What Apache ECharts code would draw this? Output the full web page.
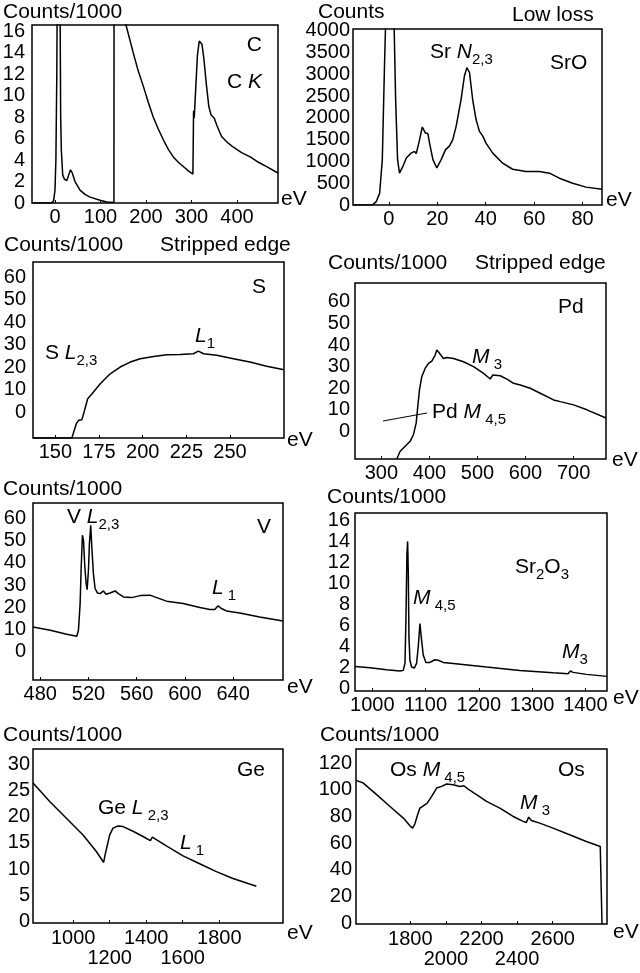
<!DOCTYPE html>
<html><head><meta charset="utf-8">
<script src="https://cdn.jsdelivr.net/npm/echarts@6/dist/echarts.min.js"></script>
<style>html,body{margin:0;padding:0;background:#fff}#c{width:640px;height:973px}</style>
</head><body><div id="c"></div>
<script>
// ---------- data (eV, counts or counts/1000) ----------
const cSpectrum = [[-50,0],[-8,0],[-3,0.2],[0,1.2],[2,4],[4,12],[5,20],[8,40],[11,20],[12.5,8],[14,4.9],[17,2.6],[21,2.2],[26,2.1],[30,2.6],[34,3.1],[38,2.8],[44,2.0],[55,1.2],[66,0.8],[77,0.55],[99,0.25],[114,0.1],[129.5,0.05],[130,30],[143,22],[156,16.6],[172,14.0],[183,12.3],[194,10.9],[205,9.4],[216,8.0],[227,6.9],[238,5.9],[249,5.0],[260,4.3],[271,3.8],[282,3.4],[293,3.0],[303,2.7],[304.5,8.6],[306,7.9],[309,10.5],[313,13.8],[317,15.1],[320,15.2],[323,14.8],[327,13.5],[333,10.9],[338,9.0],[343,8.2],[350,7.9],[356,7.2],[366,6.2],[380,5.6],[392,5.2],[410,4.7],[429,4.3],[447,3.8],[465,3.4],[490,2.8]];
const srOSpectrum = [[-14.8,0],[-6.6,8],[-5.2,77],[-3.8,270],[-2.7,1040],[-1.8,3190],[-1.4,4040],[0.4,9000],[2.2,4040],[2.8,2420],[3.6,1040],[4.4,730],[5.8,885],[7.2,1080],[9.2,1190],[10.6,1230],[11.3,1180],[12.7,1500],[13.8,1790],[15.1,1650],[16.1,1640],[16.8,1420],[18.2,1040],[19.8,850],[21.6,1040],[23.4,1270],[25.0,1350],[26.4,1500],[27.8,1810],[29.8,2420],[31.2,2960],[32.2,3150],[33.3,3040],[34.6,2420],[36.0,1960],[37.4,1690],[38.8,1580],[40.1,1420],[42.9,1190],[47.0,960],[51.1,820],[56.6,770],[62.1,770],[66.3,730],[70.4,615],[75.9,500],[81.4,410],[88,360]];
const sSpectrum = [[137.2,-11.56],[159.5,-11.56],[160.5,-8.9],[162,-5.2],[163.3,-3.7],[165.2,-3.4],[166.2,-0.7],[168.5,5.9],[171,8.1],[175.7,12.6],[181.4,17],[187.1,20],[192.9,22.2],[198.6,23.7],[206.2,24.7],[213.8,25.5],[221.4,25.6],[229,25.9],[231.9,27.1],[234.8,25.9],[242.4,25.2],[251.9,23.7],[261.4,22.2],[271,20.3],[280.9,18.8]];
const pdSpectrum = [[332,-12.8],[339,-9.2],[349.4,-6.9],[359.8,-4.6],[366.7,-1.5],[372.3,3.8],[375,10],[379.2,19.2],[384,25.4],[391,29.2],[398,31.5],[404.9,32.6],[411.9,35.4],[415.3,37.7],[420.9,36.2],[429.2,33.8],[436.2,34.3],[450.1,33.8],[470.9,32.3],[491.7,30],[512.6,26.9],[526.5,24.3],[532,26.2],[547.3,25.8],[561.2,24.2],[575.1,22.3],[589,21.5],[609.8,20],[630.6,17.7],[658.4,14.6],[672.3,13.8],[700.1,12.3],[727.8,10],[767.5,6.2]];
const vSpectrum = [[474,11.2],[488.3,9.7],[502,7.9],[510.3,7.0],[511.7,9.7],[513.1,21.7],[513.9,36.7],[515,52.5],[515.9,50.2],[517,38.2],[518.1,30.7],[518.9,28],[520,36.7],[520.8,48.7],[521.9,57],[522.8,47.2],[524.1,35.2],[525.5,28.5],[527.4,26.5],[529.7,26.2],[532.4,27.4],[534.6,25.9],[537.9,26.5],[542.1,27.4],[544.8,26.2],[549,24.7],[555.9,24.4],[562.8,25.3],[571,25.5],[576.6,24.4],[584.8,22.8],[598.6,21.7],[612.4,19.9],[620.7,19],[624.8,19],[627.6,20.7],[630.3,19.5],[634.5,18.4],[645.5,17.5],[662,15.7],[681.4,13.9]];
const sr2o3Spectrum = [[967.5,2.12],[995.6,2.0],[1026.9,1.8],[1051.9,1.68],[1058.1,1.74],[1061.3,2.4],[1063.1,6.5],[1065,12.8],[1066.3,14.0],[1067.5,11.2],[1068.8,4.9],[1070.6,2.7],[1073.8,2.06],[1078.8,1.96],[1083.1,2.4],[1086.3,4.0],[1089.4,6.2],[1091.9,4.9],[1095.6,3.2],[1100.6,2.5],[1108.1,2.5],[1117.5,2.75],[1123.8,2.7],[1133.1,2.5],[1151.9,2.4],[1214.4,2.06],[1276.9,1.74],[1339.4,1.52],[1367.5,1.43],[1371.9,1.68],[1376.9,1.55],[1401.9,1.36],[1440.6,1.17]];
const geSpectrum = [[780.3,26.4],[871.5,22.9],[962.8,19.7],[1054,16.5],[1127,13.35],[1167,11.25],[1174.5,12.7],[1185.4,14.3],[1200,16.5],[1218.2,17.8],[1245.6,18.2],[1273,18.1],[1327.7,17.2],[1382.5,16.2],[1422.6,15.4],[1433.6,16.1],[1455.5,15.6],[1510.2,14.4],[1601.5,12.5],[1692.7,11.0],[1784,9.5],[1875.2,8.2],[2003,6.7]];
const osSpectrum = [[1495,107],[1536,105],[1611,96.3],[1686,87.5],[1761,78.8],[1798,73],[1813,71.3],[1826,74.5],[1841,81.3],[1854,86.3],[1873,88],[1895,90],[1920,95],[1948,101.3],[1976,102.5],[2004,104.3],[2041,103.8],[2079,102.5],[2101,103],[2125,100.5],[2172,96.3],[2228,91.3],[2303,86.3],[2378,80],[2434,76.3],[2452,75.5],[2465,79.5],[2480,77],[2527,75],[2602,71.3],[2695,66.3],[2789,61.3],[2867,57.5],[2875,57],[2877,-0.5]];

// ---------- tick labels ----------
const cXTicks = [0,100,200,300,400];
const cYTicks = [0,2,4,6,8,10,12,14,16];
const srOXTicks = [0,20,40,60,80];
const srOYTicks = [0,500,1000,1500,2000,2500,3000,3500,4000];
const sXTicks = [150,175,200,225,250];
const sYTicks = [0,10,20,30,40,50,60];
const pdXTicks = [300,400,500,600,700];
const pdYTicks = [0,10,20,30,40,50,60];
const vXTicks = [480,520,560,600,640];
const vYTicks = [0,10,20,30,40,50,60];
const sr2o3XTicks = [1000,1100,1200,1300,1400];
const sr2o3YTicks = [0,2,4,6,8,10,12,14,16];
const geXTicksRow1 = [1000,1400,1800];
const geXTicksRow2 = [1200,1600];
const geYTicks = [0,5,10,15,20,25,30];
const osXTicksRow1 = [1800,2200,2600];
const osXTicksRow2 = [2000,2400];
const osYTicks = [0,20,40,60,80,100,120];

// ---------- layout ----------
const FONT = '"Liberation Sans", Arial, Helvetica, sans-serif';
const panels = [
  {data:cSpectrum, xt:cXTicks, yt:cYTicks, xmin:-50.5, xmax:490, ymin:0, ymax:16.6, g:[32,25,246,178], ym:7},
  {data:srOSpectrum, xt:srOXTicks, yt:srOYTicks, xmin:-14.8, xmax:88, ymin:0, ymax:4038, g:[353,29,249,176], ym:3},
  {data:sSpectrum, xt:sXTicks, yt:sYTicks, xmin:137.2, xmax:280.9, ymin:-11.56, ymax:66.7, g:[33,262,251,176], ym:7},
  {data:pdSpectrum, xt:pdXTicks, yt:pdYTicks, xmin:245, xmax:767.5, ymin:-12.8, ymax:68.8, g:[355,283,251,176], ym:5},
  {data:vSpectrum, xt:vXTicks, yt:vYTicks, xmin:474, xmax:681.4, ymin:-12.7, ymax:67, g:[33,503,250,177], ym:7},
  {data:sr2o3Spectrum, xt:sr2o3XTicks, yt:sr2o3YTicks, xmin:967.5, xmax:1440.6, ymin:-0.22, ymax:16.7, g:[355,513,252,178], ym:5},
  {data:geSpectrum, xt:geXTicksRow1, xt2:geXTicksRow2, yt:geYTicks, xmin:780, xmax:2149, ymin:-0.3, ymax:32.9, g:[33,749,250,174], ym:3},
  {data:osSpectrum, xt:osXTicksRow1, xt2:osXTicksRow2, yt:osYTicks, xmin:1495, xmax:2905, ymin:-0.5, ymax:130.5, g:[356,749,251,175], ym:4}
];

function xAxisCfg(i, p, ticks, margin) {
  return {type:'value', gridIndex:i, min:p.xmin, max:p.xmax, position:'bottom',
    axisLine:{show:false, onZero:false}, splitLine:{show:false},
    axisTick:{show:true, inside:true, length:3, customValues:ticks, lineStyle:{color:'#000', width:1}},
    axisLabel:{customValues:ticks, color:'#000', fontSize:20, fontFamily:FONT, margin:margin,
      hideOverlap:false, showMinLabel:true, showMaxLabel:true, formatter: v => String(v)}};
}

const grids = [], xAxes = [], yAxes = [], series = [];
panels.forEach((p, i) => {
  grids.push({left:p.g[0], top:p.g[1], width:p.g[2], height:p.g[3], show:true,
    borderColor:'#000', borderWidth:1.5, backgroundColor:'transparent', outerBoundsMode:'none', containLabel:false});
  const xIdx = xAxes.length;
  xAxes.push(xAxisCfg(i, p, p.xt, p.xt2 ? 5 : 4));
  if (p.xt2) xAxes.push(xAxisCfg(i, p, p.xt2, 25));
  yAxes.push({type:'value', gridIndex:i, min:p.ymin, max:p.ymax,
    axisLine:{show:false, onZero:false}, splitLine:{show:false}, axisTick:{show:false},
    axisLabel:{customValues:p.yt, color:'#000', fontSize:20, fontFamily:FONT, margin:p.ym,
      hideOverlap:false, showMinLabel:true, showMaxLabel:true, formatter: v => String(v)}
  });
  series.push({type:'line', xAxisIndex:xIdx, yAxisIndex:i, data:p.data, showSymbol:false, symbol:'none',
    clip:true, smooth:false, lineStyle:{color:'#000', width:1.5}, animation:false, silent:true});
});

// ---------- texts ----------
const RICH = {
  n:{fontSize:21, fontFamily:FONT, lineHeight:30, color:'#000'},
  i:{fontSize:21, fontFamily:FONT, fontStyle:'italic', lineHeight:30, color:'#000'},
  s:{fontSize:15, fontFamily:FONT, lineHeight:16, verticalAlign:'bottom', color:'#000'}
};
function T(x, y, text, align) {
  return {type:'text', x:x, y:y, silent:true, style:{text:text, rich:RICH, fill:'#000',
    font:'21px ' + FONT, align: align || 'left', verticalAlign:'middle'}};
}
const texts = [
  T(3,12,'{n|Counts/1000}'),
  T(262,45,'{n|C}','right'), T(227,82,'{n|C }{i|K}'), T(281,199,'{n|eV}'),
  T(318,12,'{n|Counts}'), T(512,15,'{n|Low loss}'), T(430,52,'{n|Sr }{i|N}{s|2,3}'), T(550,63,'{n|SrO}'), T(606,200,'{n|eV}'),
  T(4,245,'{n|Counts/1000}'), T(160,245,'{n|Stripped edge}'), T(252,287,'{n|S}'), T(45,353,'{n|S }{i|L}{s|2,3}'), T(195,336,'{i|L}{s|1}'), T(287,440,'{n|eV}'),
  T(328,263,'{n|Counts/1000}'), T(475,263,'{n|Stripped edge}'), T(558,307,'{n|Pd}'), T(472,357,'{i|M}{s| 3}'), T(432,412,'{n|Pd }{i|M}{s| 4,5}'), T(612,460,'{n|eV}'),
  T(3,489,'{n|Counts/1000}'), T(67,517,'{n|V }{i|L}{s|2,3}'), T(257,527,'{n|V}'), T(212,588,'{i|L}{s| 1}'), T(287,687,'{n|eV}'),
  T(327,497,'{n|Counts/1000}'), T(515,567,'{n|Sr}{s|2}{n|O}{s|3}'), T(413,598,'{i|M}{s| 4,5}'), T(562,652,'{i|M}{s|3}'), T(613,698,'{n|eV}'),
  T(3,735,'{n|Counts/1000}'), T(237,770,'{n|Ge}'), T(98,808,'{n|Ge }{i|L}{s| 2,3}'), T(180,843,'{i|L}{s| 1}'), T(287,933,'{n|eV}'),
  T(320,735,'{n|Counts/1000}'), T(390,770,'{n|Os }{i|M}{s| 4,5}'), T(558,770,'{n|Os}'), T(520,803,'{i|M}{s| 3}'), T(613,932,'{n|eV}'),
  {type:'line', silent:true, shape:{x1:383,y1:421,x2:427,y2:413}, style:{stroke:'#000', lineWidth:1}}
];

const chart = echarts.init(document.getElementById('c'), null, {renderer:'canvas'});
chart.setOption({
  animation:false, backgroundColor:'#fff',
  grid:grids, xAxis:xAxes, yAxis:yAxes, series:series, graphic:texts
});
</script></body></html>
